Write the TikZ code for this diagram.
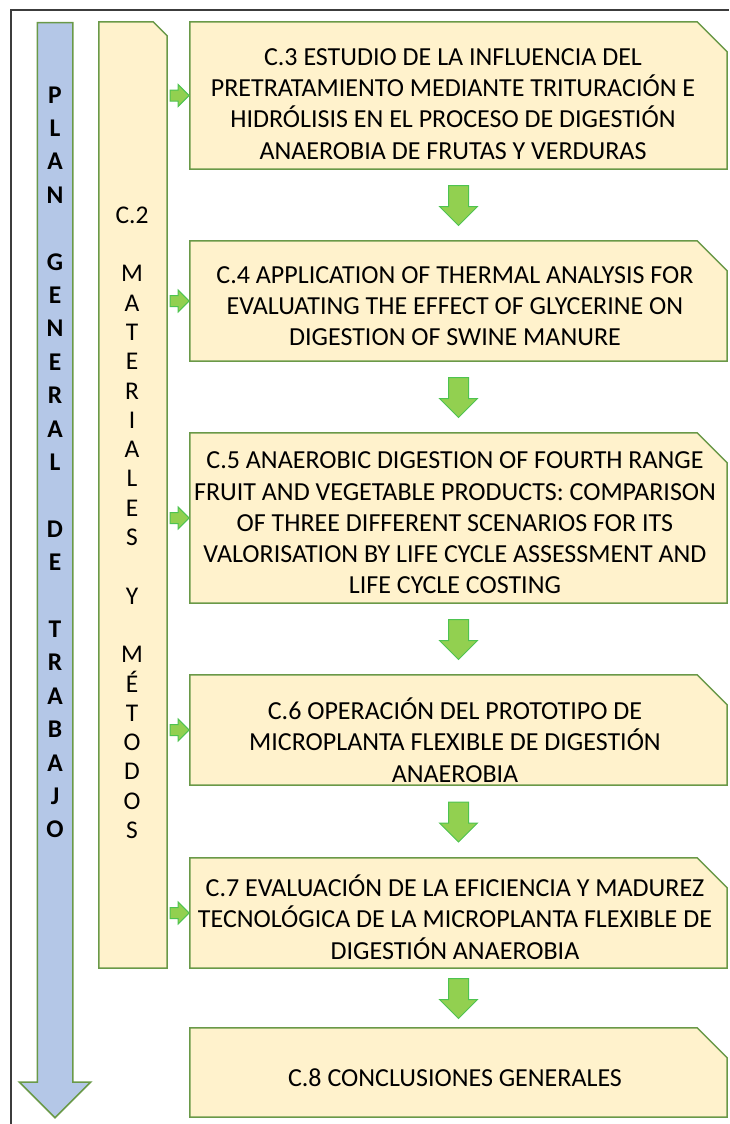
\documentclass[tikz,border=0pt]{standalone}
\usepackage{fontspec}
\setmainfont{Carlito}
\usetikzlibrary{shapes.arrows,calc}

\definecolor{boxfill}{RGB}{255,242,204}
\definecolor{boxline}{RGB}{106,153,72}
\definecolor{planfill}{RGB}{180,199,231}
\definecolor{arrfill}{RGB}{146,208,80}
\definecolor{arrline}{RGB}{78,195,80}
\definecolor{framecol}{RGB}{60,60,60}

\tikzset{
  chbox/.style={rectangle, inner sep=0pt},
  boxedge/.style={draw=boxline, fill=boxfill, line width=1.5pt},
  boxtext/.style={align=center, inner sep=0pt, font=\fontsize{26}{31.3}\selectfont},
  plantext/.style={inner sep=0pt, font=\fontsize{25.5}{30}\selectfont\bfseries},
  mattext/.style={inner sep=0pt, font=\fontsize{25.5}{30}\selectfont},
  downarr/.style={single arrow, shape border rotate=270, fill=arrfill, draw=arrline,
    line width=1pt, inner sep=9.5pt, minimum width=37pt,
    single arrow head extend=9pt, minimum height=40pt, anchor=tail},
  sidearr/.style={single arrow, fill=arrfill, draw=arrline, line width=1pt,
    inner xsep=2pt, inner ysep=5pt, minimum width=21pt,
    single arrow head extend=5.5pt, minimum height=19pt},
}

\begin{document}
\begin{tikzpicture}[x=1pt,y=-1pt]
  \useasboundingbox (0,0) rectangle (729,1124);
  \draw[framecol, line width=2pt] (11,1124) -- (11,10) -- (729,10);

  % plan general arrow
  \node[single arrow, shape border rotate=270, fill=planfill, draw=boxline,
    line width=1.5pt, inner sep=17pt, minimum width=70pt,
    single arrow head extend=18pt, minimum height=1095pt, anchor=tail] (plan) at (55,22) {};
  \foreach \ch [count=\i] in {P,L,A,N,{},G,E,N,E,R,A,L,{},D,E,{},T,R,A,B,A,J,O}
    \node[plantext, anchor=base] (p\i) at (55,{103+33.4*(\i-1)}) {\ch};

  % boxes
  \node[chbox, minimum width=68pt, minimum height=946pt] (c2) at (133,495) {};
  \node[chbox, minimum width=537pt, minimum height=147pt] (c3) at (458.5,95.5) {};
  \node[chbox, minimum width=537pt, minimum height=120pt] (c4) at (458.5,301) {};
  \node[chbox, minimum width=537pt, minimum height=170pt] (c5) at (458.5,518) {};
  \node[chbox, minimum width=537pt, minimum height=110pt] (c6) at (458.5,730) {};
  \node[chbox, minimum width=537pt, minimum height=110pt] (c7) at (458.5,913) {};
  \node[chbox, minimum width=537pt, minimum height=89pt] (c8) at (458.5,1072.5) {};
  \foreach \b/\c in {c2/14,c3/30,c4/30,c5/30,c6/30,c7/30,c8/30}
    \draw[boxedge] (\b.south west) -- (\b.north west) -- ([xshift=-\c pt]\b.north east)
      -- ([yshift=-\c pt]\b.north east) -- (\b.south east) -- cycle;

  \foreach \ch [count=\i] in {C.2,{},M,A,T,E,R,I,A,L,E,S,{},Y,{},M,É,T,O,D,O,S}
    \node[mattext, anchor=base] (m\i) at (132,{223.2+29.3*(\i-1)}) {\ch};

  \node[boxtext] (t3) at (453,104) {C.3 ESTUDIO DE LA INFLUENCIA DEL\\PRETRATAMIENTO MEDIANTE TRITURACIÓN E\\HIDRÓLISIS EN EL PROCESO DE DIGESTIÓN\\ANAEROBIA DE FRUTAS Y VERDURAS};
  \node[boxtext] (t4) at (455,306) {C.4 APPLICATION OF THERMAL ANALYSIS FOR\\EVALUATING THE EFFECT OF GLYCERINE ON\\DIGESTION OF SWINE MANURE};
  \node[boxtext] (t5) at (455,523) {C.5 ANAEROBIC DIGESTION OF FOURTH RANGE\\FRUIT AND VEGETABLE PRODUCTS: COMPARISON\\OF THREE DIFFERENT SCENARIOS FOR ITS\\VALORISATION BY LIFE CYCLE ASSESSMENT AND\\LIFE CYCLE COSTING};
  \node[boxtext] (t6) at (455,740) {C.6 OPERACIÓN DEL PROTOTIPO DE\\MICROPLANTA FLEXIBLE DE DIGESTIÓN\\ANAEROBIA};
  \node[boxtext] (t7) at (455,917) {C.7 EVALUACIÓN DE LA EFICIENCIA Y MADUREZ\\TECNOLÓGICA DE LA MICROPLANTA FLEXIBLE DE\\DIGESTIÓN ANAEROBIA};
  \node[boxtext] (t8) at (455,1078) {C.8 CONCLUSIONES GENERALES};

  % arrows between chapters
  \node[downarr] (d34) at ($(c3.south)!0.5!(c4.north)+(0,-20)$) {};
  \node[downarr] (d45) at ($(c4.south)!0.5!(c5.north)+(0,-20)$) {};
  \node[downarr] (d56) at ($(c5.south)!0.5!(c6.north)+(0,-20)$) {};
  \node[downarr] (d67) at ($(c6.south)!0.5!(c7.north)+(0,-20)$) {};
  \node[downarr] (d78) at ($(c7.south)!0.5!(c8.north)+(0,-20)$) {};

  % arrows from C.2
  \foreach \b in {c3,c4,c5,c6,c7}
    \node[sidearr, anchor=tip] (s\b) at (\b.west) {};
\end{tikzpicture}
\end{document}
